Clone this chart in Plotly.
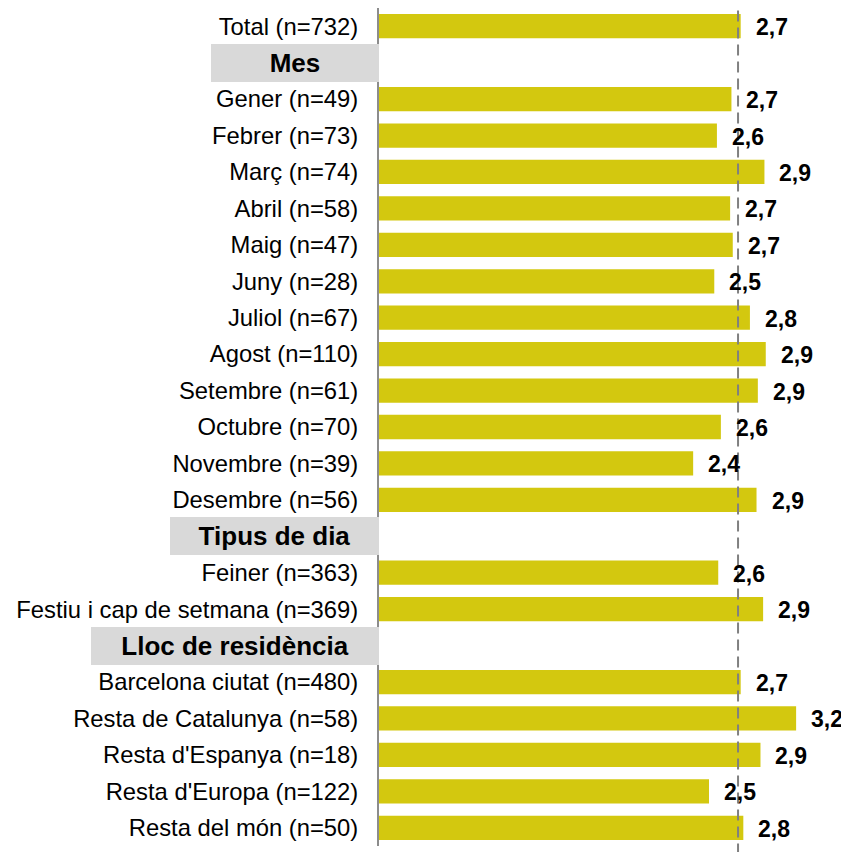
import plotly.graph_objects as go

# categories and mean values
total_labels = ["Total (n=732)"]
total_values = [2.74]

month_title = "Mes"
month_labels = ["Gener (n=49)", "Febrer (n=73)", "Març (n=74)", "Abril (n=58)",
                "Maig (n=47)", "Juny (n=28)", "Juliol (n=67)", "Agost (n=110)",
                "Setembre (n=61)", "Octubre (n=70)", "Novembre (n=39)", "Desembre (n=56)"]
month_values = [2.67, 2.56, 2.92, 2.66, 2.68, 2.54, 2.81, 2.93, 2.87, 2.59, 2.38, 2.86]

day_title = "Tipus de dia"
day_labels = ["Feiner (n=363)", "Festiu i cap de setmana (n=369)"]
day_values = [2.57, 2.91]

res_title = "Lloc de residència"
res_labels = ["Barcelona ciutat (n=480)", "Resta de Catalunya (n=58)",
              "Resta d'Espanya (n=18)", "Resta d'Europa (n=122)", "Resta del món (n=50)"]
res_values = [2.74, 3.16, 2.89, 2.50, 2.76]

reference_value = 2.72

BAR_COLOR = "#D3C80F"
FONT = "Liberation Sans, Arial, sans-serif"

# build the row layout: (label, value, is_header)
rows = [(l, v, False) for l, v in zip(total_labels, total_values)]
for title, labels, values in [(month_title, month_labels, month_values),
                              (day_title, day_labels, day_values),
                              (res_title, res_labels, res_values)]:
    rows.append((title, None, True))
    rows += [(l, v, False) for l, v in zip(labels, values)]

header_widths = {month_title: 168, day_title: 209, res_title: 288}

bar_y, bar_x, tick_vals, tick_text = [], [], [], []
for i, (label, value, is_header) in enumerate(rows):
    if is_header:
        continue
    bar_y.append(i)
    bar_x.append(value)
    tick_vals.append(i)
    tick_text.append(label)

fig = go.Figure(go.Bar(
    x=bar_x, y=bar_y, orientation="h", width=0.666,
    marker=dict(color=BAR_COLOR, line=dict(width=0)),
    hoverinfo="skip",
))

# value labels
for x, y in zip(bar_x, bar_y):
    fig.add_annotation(
        x=x, y=y, xref="x", yref="y", xanchor="left", yanchor="middle",
        text="<b>" + f"{x:.1f}".replace(".", ",") + "</b>",
        showarrow=False, xshift=13, yshift=-1,
        font=dict(family=FONT, size=23, color="black"),
    )

# grey section headers
for i, (label, value, is_header) in enumerate(rows):
    if not is_header:
        continue
    fig.add_annotation(
        x=0, y=i, xref="paper", yref="y", xanchor="right", yanchor="middle",
        text="<b>" + label + "</b>", showarrow=False,
        width=header_widths[label], height=38, align="center", valign="middle",
        bgcolor="#D9D9D9", borderwidth=0, borderpad=0,
        font=dict(family=FONT, size=26, color="black"),
    )

# dashed line at the overall mean
fig.add_shape(type="line", xref="x", yref="paper",
              x0=reference_value, x1=reference_value, y0=-0.01, y1=1,
              line=dict(color="#808080", width=2, dash="11px,6px"))

# page body adds an 8px margin, so the figure is sized to fit the window
fig.update_layout(
    width=841, height=844,
    margin=dict(l=371, r=0, t=0, b=6),
    plot_bgcolor="white", paper_bgcolor="white",
    showlegend=False,
    xaxis=dict(visible=False, range=[0, 3.5606], showgrid=False, zeroline=False),
    yaxis=dict(
        range=[len(rows) - 0.5, -0.5],
        tickmode="array", tickvals=tick_vals, ticktext=tick_text,
        showgrid=False, zeroline=False,
        showline=True, linecolor="#8C8C8C", linewidth=2,
        ticks="", ticklabelstandoff=14,
        tickfont=dict(family=FONT, size=23.8, color="black"),
    ),
)

fig.write_html("out.html")
